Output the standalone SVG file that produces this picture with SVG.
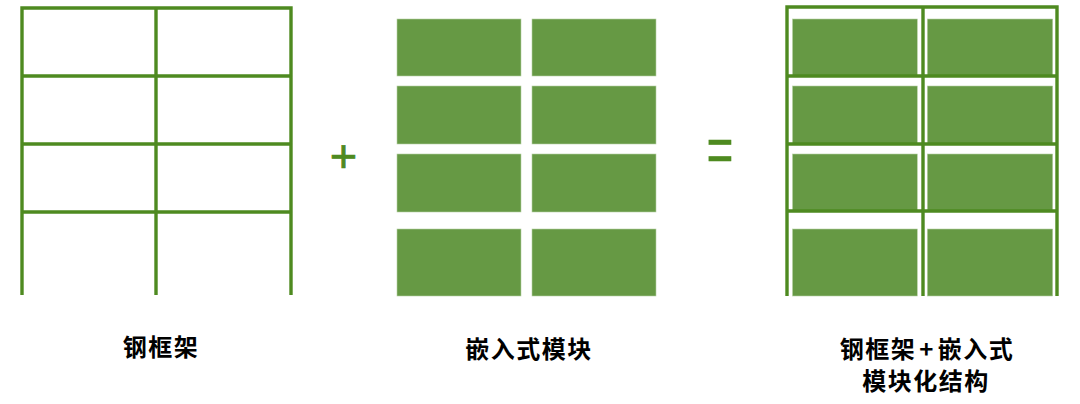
<svg xmlns="http://www.w3.org/2000/svg" width="1080" height="404" viewBox="0 0 1080 404">
<style>
.fr{stroke:#4e8a20;stroke-width:3.4;fill:none;stroke-linecap:butt}
.blk{fill:#669944;stroke:#b6d1a4;stroke-width:0.6}
.lbl{font-family:"Noto Sans CJK SC","Noto Sans",sans-serif;font-weight:bold;font-size:24px;letter-spacing:1.5px;fill:#000;text-anchor:middle}
.op{font-family:"Liberation Sans",Arial,sans-serif;fill:#4e8a20;stroke:#4e8a20;text-anchor:middle}
</style>
<rect width="1080" height="404" fill="#fff"/>
<g id="steel-frame">
<path class="fr" d="M22,295V8M156,295V8M291,295V8M20.3,8H292.7M22,76H291M22,144H291M22,212H291"/>
</g>
<g id="modules">
<rect class="blk" x="397" y="19" width="124" height="57"/>
<rect class="blk" x="532" y="19" width="124" height="57"/>
<rect class="blk" x="397" y="86" width="124" height="58"/>
<rect class="blk" x="532" y="86" width="124" height="58"/>
<rect class="blk" x="397" y="154" width="124" height="58"/>
<rect class="blk" x="532" y="154" width="124" height="58"/>
<rect class="blk" x="397" y="229" width="124" height="67"/>
<rect class="blk" x="532" y="229" width="124" height="67"/>
</g>
<g id="combined">
<rect class="blk" x="792.5" y="19" width="124.8" height="57"/>
<rect class="blk" x="927.3" y="19" width="125.4" height="57"/>
<rect class="blk" x="792.5" y="86" width="124.8" height="58"/>
<rect class="blk" x="927.3" y="86" width="125.4" height="58"/>
<rect class="blk" x="792.5" y="154" width="124.8" height="57"/>
<rect class="blk" x="927.3" y="154" width="125.4" height="57"/>
<rect class="blk" x="792.5" y="229" width="124.8" height="67"/>
<rect class="blk" x="927.3" y="229" width="125.4" height="67"/>
<path class="fr" d="M787,296V7M923,296V7M1057,296V7M785.3,7H1058.7M787,76H1057M787,144H1057M787,211H1057"/>
</g>
<g id="operators">
<text class="op" x="343.5" y="172" font-size="47" stroke-width="0.7">+</text>
<text class="op" x="720" y="0" font-size="46" stroke-width="0.2" transform="translate(0,172) scale(1,1.4)">=</text>
</g>
<g id="labels">
<text class="lbl" x="161" y="356">钢框架</text>
<text class="lbl" x="529" y="358">嵌入式模块</text>
<text class="lbl" y="358"><tspan x="927">钢框架</tspan><tspan dx="3">+</tspan><tspan dx="3">嵌入式</tspan><tspan x="926" dy="32">模块化结构</tspan></text>
</g>
</svg>
